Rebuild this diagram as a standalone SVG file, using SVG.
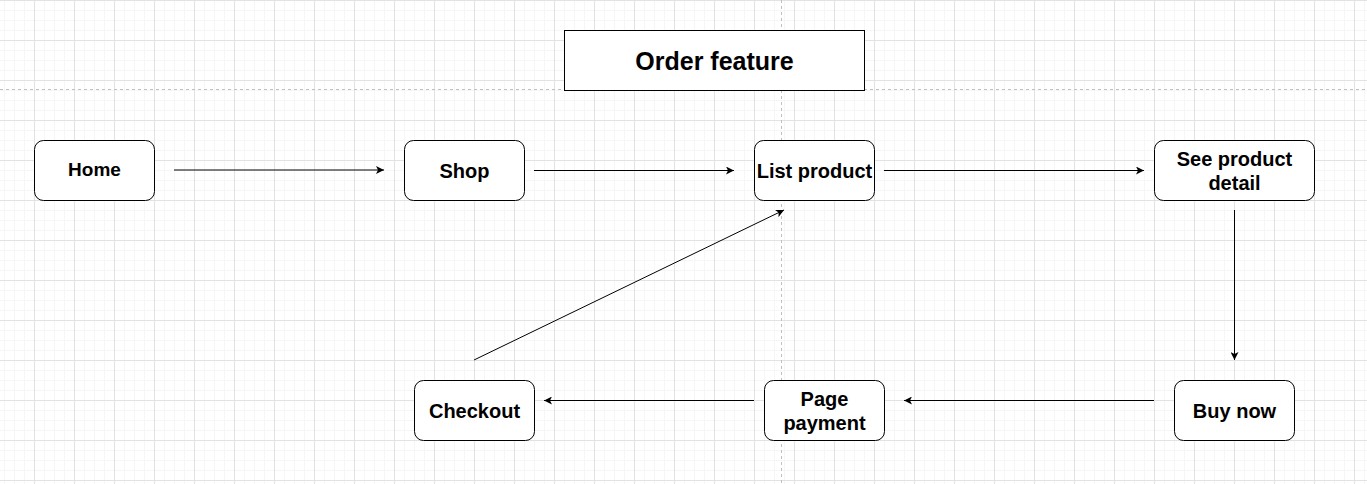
<svg xmlns="http://www.w3.org/2000/svg" width="1367" height="484" viewBox="0 0 1367 484">
<style>
.node rect{fill:#fff;stroke:#000;stroke-width:1}
.node text{font-family:"Liberation Sans",Arial,sans-serif;font-weight:bold;font-size:20px;text-anchor:middle;fill:#000}
.edge{stroke:#000;stroke-width:1;fill:none;marker-end:url(#arrow)}
.guide{stroke:#c0c0c0;stroke-width:1;stroke-dasharray:3 3;fill:none}
</style>
<defs>
<pattern id="minor" x="4" y="0" width="10" height="10" patternUnits="userSpaceOnUse">
<path d="M0.5,0 V10 M0,0.5 H10" stroke="#f6f6f6" stroke-width="1" fill="none"/>
</pattern>
<pattern id="major" x="34" y="0" width="40" height="40" patternUnits="userSpaceOnUse">
<path d="M0.5,0 V40 M0,0.5 H40" stroke="#e2e2e2" stroke-width="1" fill="none"/>
</pattern>
<marker id="arrow" viewBox="0 0 8 8" refX="8" refY="4" markerWidth="8" markerHeight="8" markerUnits="userSpaceOnUse" orient="auto">
<path d="M0,0 L8,4 L0,8 L2,4 Z" fill="#000"/>
</marker>
</defs>
<rect width="1367" height="484" fill="#fff"/>
<rect width="1367" height="484" fill="url(#minor)"/>
<rect width="1367" height="484" fill="url(#major)"/>
<path class="guide" d="M0,89.5 H1367 M781.5,0 V484"/>
<g id="connectors">
<line class="edge" x1="174" y1="170" x2="384" y2="170"/>
<line class="edge" x1="534" y1="170.5" x2="734" y2="170.5"/>
<line class="edge" x1="884" y1="170.5" x2="1144" y2="170.5"/>
<line class="edge" x1="1234.5" y1="210" x2="1234.5" y2="360"/>
<line class="edge" x1="1154" y1="400.5" x2="904" y2="400.5"/>
<line class="edge" x1="754" y1="400.5" x2="544" y2="400.5"/>
<line class="edge" x1="474" y1="360" x2="784" y2="210"/>
</g>
<g id="title" class="node">
<rect x="564.5" y="30.5" width="300" height="60"/>
<text x="714.5" y="69.5" style="font-size:25px">Order feature</text>
</g>
<g id="home" class="node">
<rect x="34.5" y="140.5" width="120" height="60" rx="9" ry="9"/>
<text x="94.5" y="175.5" style="font-size:19px">Home</text>
</g>
<g id="shop" class="node">
<rect x="404.5" y="140.5" width="120" height="60" rx="9" ry="9"/>
<text x="464.5" y="177.5">Shop</text>
</g>
<g id="list-product" class="node">
<rect x="754.5" y="140.5" width="120" height="60" rx="9" ry="9"/>
<text x="814.5" y="177.5">List product</text>
</g>
<g id="see-product-detail" class="node">
<rect x="1154.5" y="140.5" width="160" height="60" rx="9" ry="9"/>
<text x="1234.5" y="165.5">See product</text>
<text x="1234.5" y="189.5">detail</text>
</g>
<g id="buy-now" class="node">
<rect x="1174.5" y="380.5" width="120" height="60" rx="9" ry="9"/>
<text x="1234.5" y="417.5">Buy now</text>
</g>
<g id="page-payment" class="node">
<rect x="764.5" y="380.5" width="120" height="60" rx="9" ry="9"/>
<text x="824.5" y="405.5">Page</text>
<text x="824.5" y="429.5">payment</text>
</g>
<g id="checkout" class="node">
<rect x="414.5" y="380.5" width="120" height="60" rx="9" ry="9"/>
<text x="474.5" y="417.5">Checkout</text>
</g>
</svg>
